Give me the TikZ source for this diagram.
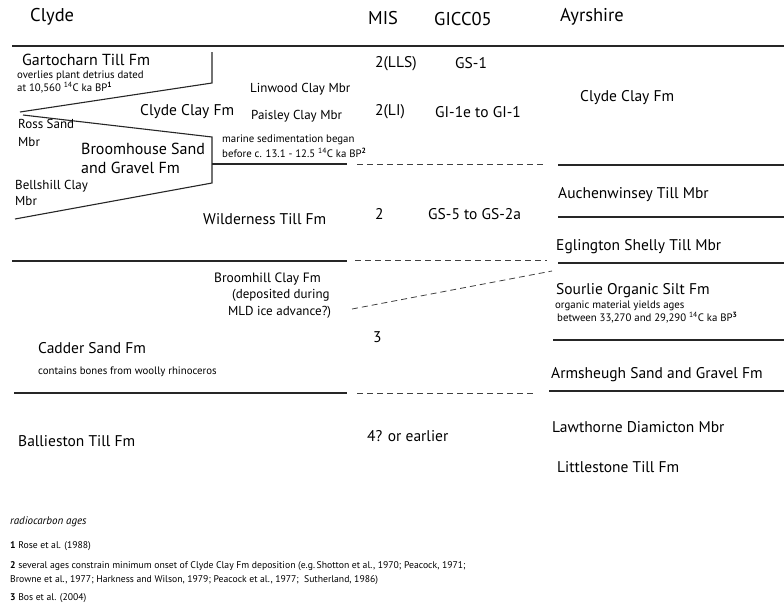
\documentclass[tikz,border=0pt]{standalone}
\usepackage{fontspec}
\setmainfont{PT Sans}
\usetikzlibrary{positioning}
\newcommand\ckbp{\textsuperscript{14}C ka BP}
\newcommand\fmk[1]{\textsuperscript{\textbf{#1}}}
\begin{document}
\begin{tikzpicture}[x=1pt,y=-1pt,
hd/.style={anchor=west, inner sep=0pt, font=\fontsize{18.5}{20}\selectfont},
fm/.style={anchor=west, inner sep=0pt, font=\fontsize{15.5}{18}\selectfont},
bg/.style={fm, font=\fontsize{16}{18}\selectfont},
mb/.style={anchor=west, inner sep=0pt, font=\fontsize{13}{15}\selectfont},
sm/.style={anchor=west, inner sep=0pt, font=\fontsize{10.8}{12}\selectfont},
fn/.style={anchor=west, inner sep=0pt, font=\fontsize{9.7}{11}\selectfont},
bd/.style={line width=1.1pt, black!85},
dl/.style={line width=0.8pt, black!75, dash pattern=on 6pt off 4pt}
]
\useasboundingbox (0,0) rectangle (784,611);
\node[hd] (hcly) at (30,17) {Clyde};
\node[hd] (hmis) at (368,18) {MIS};
\node[hd] (hgic) at (434,19) {GICC05};
\node[hd] (hayr) at (560,17) {Ayrshire};
\draw[bd] (12,46) -- (784,46);
\coordinate (w1) at (212,52); \coordinate (w2) at (212,83); \coordinate (tip) at (20,112);
\coordinate (w3) at (23,115); \coordinate (w4) at (212,137); \coordinate (w5) at (212,183);
\coordinate (w6) at (15,219); \coordinate (w7) at (212,164);
\draw[bd] (w1) -- (w2) -- (tip);
\draw[bd] (w3) -- (w4) -- (w5) -- (w6);
\draw[bd] (w7) -- (347,164);
\draw[dl] (357,164) -- (545,164);
\draw[bd] (558,165) -- (784,165);
\draw[bd] (558,217) -- (784,217);
\draw[bd] (12,261) -- (347,261);
\draw[dl] (355,260) -- (547,260);
\draw[bd] (558,263) -- (784,263);
\draw[dl] (352,309) -- (552,271);
\draw[bd] (553,340) -- (784,340);
\draw[bd] (14,393) -- (347,393);
\draw[dl] (357,393) -- (536,393);
\draw[bd] (549,391) -- (784,391);
\node[bg] (gart) at (22,60) {Gartocharn Till Fm};
\node[sm] (gar1) at (17,76) {overlies plant detrius dated};
\node[sm] (gar2) at (17,88) {at 10,560 \ckbp\fmk{1}};
\node[fm] (lls) at (375,64) {2(LLS)};
\node[fm] (gs1) at (455,63) {GS-1};
\node[mb] (linw) at (250,89) {Linwood Clay Mbr};
\node[fm] (ccly) at (140,112) {Clyde Clay Fm};
\node[mb] (pais) at (251,116) {Paisley Clay Mbr};
\node[fm] (li) at (375,112) {2(LI)};
\node[fm] (gi1) at (435,112) {GI-1e to GI-1};
\node[fm] (accl) at (580,98) {Clyde Clay Fm};
\node[mb] (ross) at (18,124) {Ross Sand};
\node[mb] (rmbr) at (18,142) {Mbr};
\node[bg] (brh1) at (81,149) {Broomhouse Sand};
\node[bg] (brh2) at (81,168) {and Gravel Fm};
\node[sm] (mar1) at (222,140) {marine sedimentation began};
\node[sm] (mar2) at (222,153) {before c. 13.1 - 12.5 \ckbp\fmk{2}};
\node[mb] (bell) at (15,186) {Bellshill Clay};
\node[mb] (bmbr) at (15,201) {Mbr};
\node[fm] (wild) at (203,219) {Wilderness Till Fm};
\node[fm] (two) at (375,214) {2};
\node[fm] (gs5) at (428,214) {GS-5 to GS-2a};
\node[fm] (auch) at (558,195) {Auchenwinsey Till Mbr};
\node[fm] (egli) at (556,247) {Eglington Shelly Till Mbr};
\node[mb, font=\fontsize{13.5}{15}\selectfont] (bhil) at (214,279) {Broomhill Clay Fm};
\node[mb] (dep1) at (232,295) {(deposited during};
\node[mb] (dep2) at (228,312) {MLD ice advance?)};
\node[fm] (thr) at (373,337) {3};
\node[fm] (sour) at (556,291) {Sourlie Organic Silt Fm};
\node[sm] (sou1) at (555,306) {organic material yields ages};
\node[sm] (sou2) at (557,318) {between 33,270 and 29,290 \ckbp\fmk{3}};
\node[fm] (cadd) at (38,348) {Cadder Sand Fm};
\node[sm] (bone) at (38,372) {contains bones from woolly rhinoceros};
\node[fm] (arms) at (551,375) {Armsheugh Sand and Gravel Fm};
\node[fm] (ball) at (18,441) {Ballieston Till Fm};
\node[fm] (four) at (367,436) {4? or earlier};
\node[fm] (lawt) at (552,427) {Lawthorne Diamicton Mbr};
\node[fm] (litt) at (557,467) {Littlestone Till Fm};
\node[fm, font=\fontsize{11}{13}\selectfont\itshape] (rca) at (10,522) {radiocarbon ages};
\node[fn] (ft1) at (10,546) {\textbf{1} Rose et al. (1988)};
\node[fn] (ft2) at (10,566) {\textbf{2} several ages constrain minimum onset of Clyde Clay Fm deposition (e.g.\,Shotton et al., 1970; Peacock, 1971;};
\node[fn] (ft2b) at (10,580) {Browne et al., 1977; Harkness and Wilson, 1979; Peacock et al., 1977;\ \ Sutherland, 1986)};
\node[fn] (ft3) at (10,598) {\textbf{3} Bos et al. (2004)};
\end{tikzpicture}
\end{document}
